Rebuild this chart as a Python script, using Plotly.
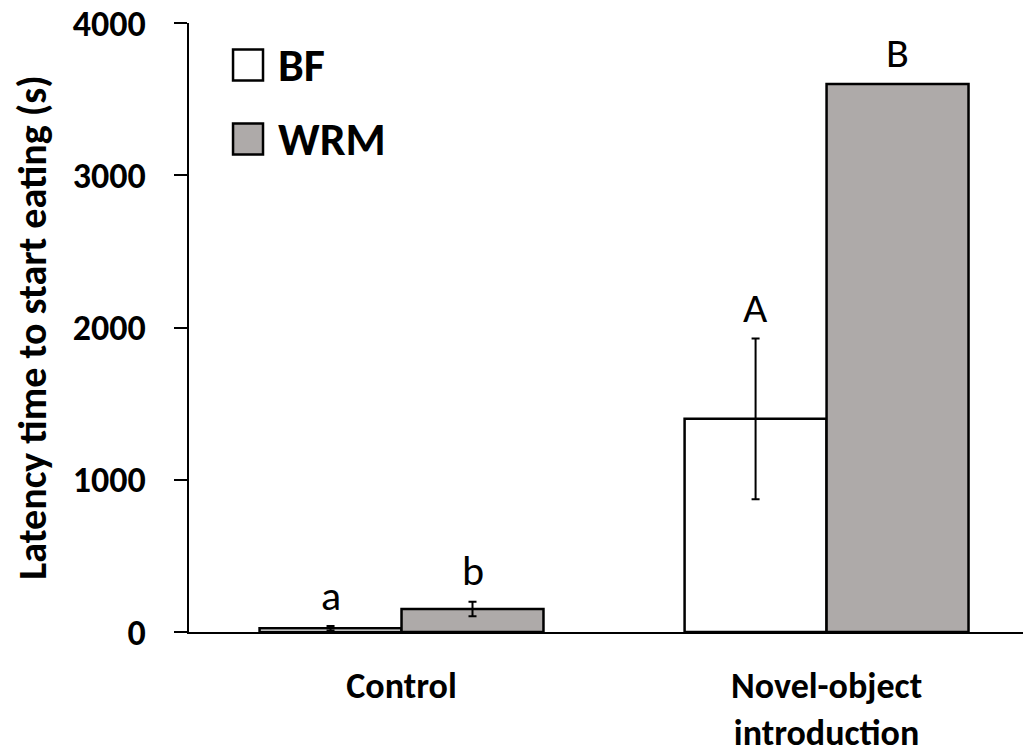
import plotly.graph_objects as go

categories = ["Control", "Novel-object<br>introduction"]
bf_values = [25, 1400]
bf_errors = [15, 528]
wrm_values = [151, 3600]
wrm_errors = [48, 0]
bf_letters = ["a", "A"]
wrm_letters = ["b", "B"]
y_ticks = [0, 1000, 2000, 3000, 4000]

FONT = "Carlito, Calibri, Lato, sans-serif"
GREY = "#aeaaa9"

fig = go.Figure()
fig.add_trace(go.Bar(
    name="BF", x=categories, y=bf_values,
    marker=dict(color="white", line=dict(color="black", width=2.5)),
    error_y=dict(type="data", array=bf_errors, color="black", thickness=2, width=4),
))
fig.add_trace(go.Bar(
    name="WRM", x=categories, y=wrm_values,
    marker=dict(color=GREY, line=dict(color="black", width=2.5)),
    error_y=dict(type="data", array=wrm_errors, color="black", thickness=2, width=4),
))

annotations = []
for i, cat in enumerate(categories):
    annotations.append(dict(x=cat, y=bf_values[i] + bf_errors[i], text=bf_letters[i],
                            xshift=-71, yshift=3, yanchor="bottom", showarrow=False,
                            font=dict(family=FONT, size=42, color="black")))
    annotations.append(dict(x=cat, y=wrm_values[i] + wrm_errors[i], text=wrm_letters[i],
                            xshift=71, yshift=4, yanchor="bottom", showarrow=False,
                            font=dict(family=FONT, size=42, color="black")))

# custom legend
legend_items = [("BF", "white", 0.931), ("WRM", GREY, 0.8095)]
shapes = []
for name, color, yc in legend_items:
    shapes.append(dict(type="rect", xref="paper", yref="paper",
                       x0=0.0523, x1=0.0879, y0=yc - 0.0255, y1=yc + 0.0255,
                       fillcolor=color, line=dict(color="black", width=2.5)))
    annotations.append(dict(x=0.103, y=yc, xref="paper", yref="paper", text=f"<b>{name}</b>",
                            xanchor="left", yanchor="middle", showarrow=False,
                            font=dict(family=FONT, size=46, color="black")))

fig.update_layout(
    width=1031, height=754,
    margin=dict(l=181, r=8, t=15, b=130),
    paper_bgcolor="white", plot_bgcolor="white",
    barmode="group", bargap=0.332, bargroupgap=0,
    showlegend=False,
    shapes=shapes, annotations=annotations,
    font=dict(family=FONT, color="black"),
)
fig.update_xaxes(
    range=[-0.5, 1.481], showline=True, linecolor="black", linewidth=2,
    ticks="", showgrid=False, zeroline=False, automargin=False,
    tickvals=categories, ticktext=[f"<b>{c}</b>" for c in categories],
    tickfont=dict(family=FONT, size=36, color="black"),
    ticklabelstandoff=21, ticklabeloverflow="allow",
)
fig.update_yaxes(
    range=[0, 4000], tickvals=y_ticks, ticktext=[f"<b>{v}</b>" for v in y_ticks],
    showline=True, linecolor="black", linewidth=2,
    ticks="outside", ticklen=13, tickwidth=2, tickcolor="black",
    showgrid=False, zeroline=False, automargin=False,
    tickfont=dict(family=FONT, size=36, color="black"),
    ticklabelstandoff=21, ticklabeloverflow="allow",
    title=dict(text="<b>Latency time to start eating (s)</b>", standoff=16,
               font=dict(family=FONT, size=40, color="black")),
)

fig.write_html("out.html")
